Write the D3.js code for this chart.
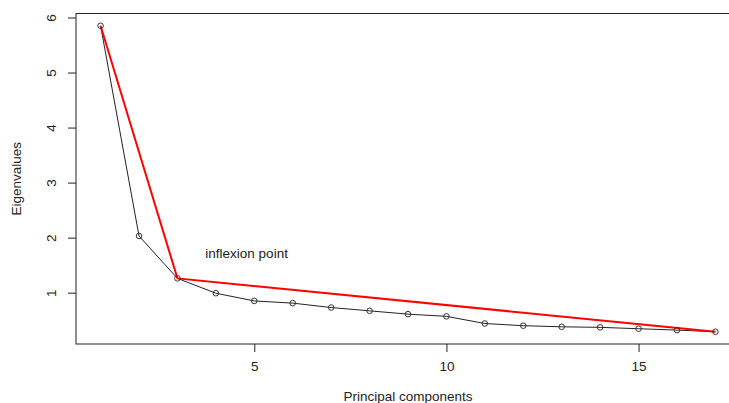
<!DOCTYPE html>
<html>
<head>
<meta charset="utf-8">
<script src="https://cdn.jsdelivr.net/npm/d3@7"></script>
<style>
  body { margin: 0; background: #fff; }
  svg { display: block; overflow: hidden; }
  text { font-family: "Liberation Sans", Arial, sans-serif; fill: #222; }
</style>
</head>
<body>
<svg id="chart"></svg>
<script>
// scree plot data
const components = [1, 2, 3, 4, 5, 6, 7, 8, 9, 10, 11, 12, 13, 14, 15, 16, 17];
const eigenvalues = [5.85, 2.03, 1.26, 0.99, 0.85, 0.81, 0.73, 0.67, 0.61, 0.57,
                     0.44, 0.40, 0.38, 0.37, 0.345, 0.32, 0.29];
// red "elbow" segments: first, inflexion, last component
const elbowComponents = [1, 3, 17];
const xTicks = [5, 10, 15];
const yTicks = [1, 2, 3, 4, 5, 6];
const annotation = {label: "inflexion point", x: 4.8, y: 1.71};

const width = 729;
const height = 403;
const margins = {"left": 76, "right": -11, "top": 13.5, "bottom": 59};
const fontSize = 13.5;

const svg = d3.select("#chart")
              .attr("width", width)
              .attr("height", height);

// R style axis ranges: data range plus 4% each side
function extend(ext) {
  const pad = (ext[1] - ext[0]) * 0.04;
  return [ext[0] - pad, ext[1] + pad];
}

const xScale = d3.scaleLinear()
                 .domain(extend(d3.extent(components)))
                 .range([margins.left, width - margins.right]);
const yScale = d3.scaleLinear()
                 .domain(extend(d3.extent(eigenvalues)))
                 .range([height - margins.bottom, margins.top]);

const points = components.map((c, i) => ({"pc": c, "ev": eigenvalues[i]}));
const elbow = points.filter(d => elbowComponents.includes(d.pc));

// x axis
const xAxis = d3.axisBottom(xScale)
                .tickValues(xTicks)
                .tickSize(8)
                .tickPadding(9)
                .tickFormat(d3.format("d"));
const gx = svg.append("g")
              .attr("transform", "translate(0," + (height - margins.bottom) + ")")
              .call(xAxis);
gx.select(".domain").remove();
gx.selectAll("line").attr("stroke", "#222");
gx.selectAll("text")
  .attr("font-size", fontSize)
  .style("font-family", "Liberation Sans, Arial, sans-serif")
  .attr("fill", "#222");

// y axis, labels rotated like R
const yAxis = d3.axisLeft(yScale)
                .tickValues(yTicks)
                .tickSize(8)
                .tickFormat(d3.format("d"));
const gy = svg.append("g")
              .attr("transform", "translate(" + margins.left + ",0)")
              .call(yAxis);
gy.select(".domain").remove();
gy.selectAll("line").attr("stroke", "#222");
gy.selectAll("text")
  .attr("font-size", fontSize)
  .style("font-family", "Liberation Sans, Arial, sans-serif")
  .attr("fill", "#222")
  .attr("x", 0)
  .attr("dy", 0)
  .attr("text-anchor", "middle")
  .attr("transform", "translate(-25,0) rotate(-90)")
  .attr("dominant-baseline", "central");

// box
svg.append("rect")
   .attr("x", margins.left)
   .attr("y", margins.top)
   .attr("width", width - margins.right - margins.left)
   .attr("height", height - margins.bottom - margins.top)
   .attr("fill", "none")
   .attr("stroke", "#222")
   .attr("stroke-width", 1);

// axis titles
svg.append("text")
   .attr("x", (margins.left + width - margins.right) / 2)
   .attr("y", 401)
   .attr("text-anchor", "middle")
   .attr("font-size", fontSize)
   .text("Principal components");

svg.append("text")
   .attr("transform", "translate(21," + (margins.top + height - margins.bottom) / 2 + ") rotate(-90)")
   .attr("text-anchor", "middle")
   .attr("font-size", fontSize)
   .text("Eigenvalues");

const line = d3.line()
               .x(d => xScale(d.pc))
               .y(d => yScale(d.ev));

// eigenvalue line and points
svg.append("path")
   .datum(points)
   .attr("d", line)
   .attr("fill", "none")
   .attr("stroke", "#222")
   .attr("stroke-width", 1);

// elbow line in red
svg.append("path")
   .datum(elbow)
   .attr("d", line)
   .attr("fill", "none")
   .attr("stroke", "#ff0000")
   .attr("stroke-width", 2);

svg.selectAll("circle")
   .data(points)
   .enter()
   .append("circle")
   .attr("cx", d => xScale(d.pc))
   .attr("cy", d => yScale(d.ev))
   .attr("r", 2.8)
   .attr("fill", "none")
   .attr("stroke", "#333")
   .attr("stroke-width", 1);

svg.append("text")
   .attr("x", xScale(annotation.x))
   .attr("y", yScale(annotation.y))
   .attr("text-anchor", "middle")
   .attr("dominant-baseline", "central")
   .attr("font-size", fontSize)
   .text(annotation.label);
</script>
</body>
</html>
